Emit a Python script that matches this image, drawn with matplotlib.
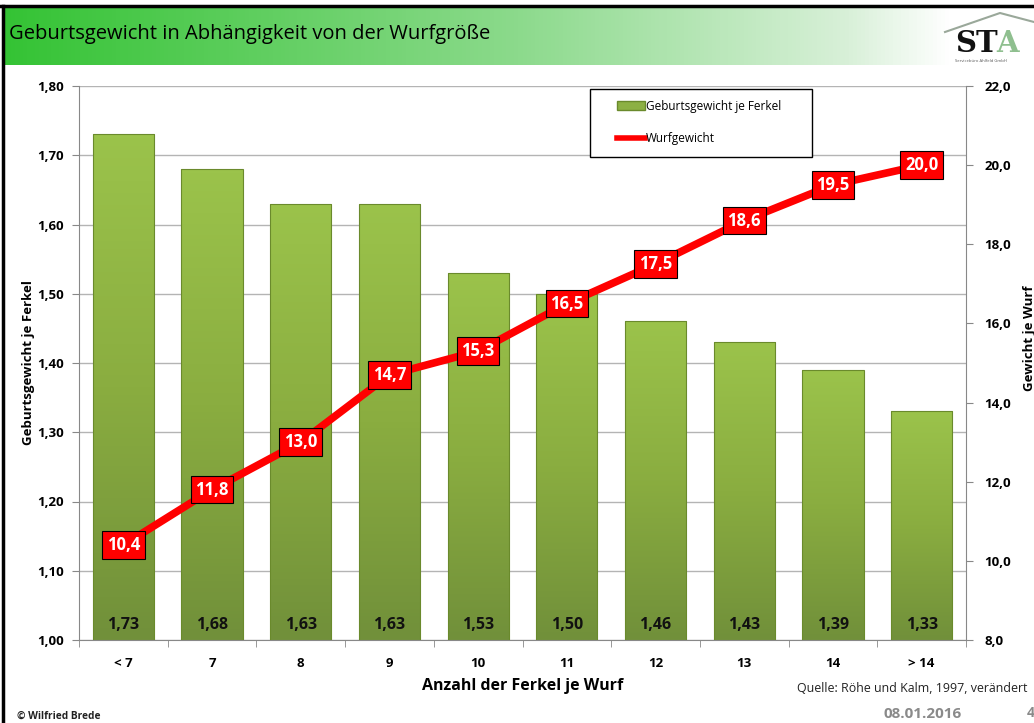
import numpy as np
import matplotlib.pyplot as plt
from matplotlib.patches import Patch, Rectangle
from matplotlib.lines import Line2D
from matplotlib.colors import LinearSegmentedColormap

plt.rcParams['font.family'] = ['Open Sans', 'DejaVu Sans']

# data
categories = ['< 7', '7', '8', '9', '10', '11', '12', '13', '14', '> 14']
birth_weight = [1.73, 1.68, 1.63, 1.63, 1.53, 1.50, 1.46, 1.43, 1.39, 1.33]
litter_weight = [10.4, 11.8, 13.0, 14.7, 15.3, 16.5, 17.5, 18.6, 19.5, 20.0]
left_ticks = np.arange(1.0, 1.81, 0.1)
right_ticks = np.arange(8.0, 22.1, 2.0)


def de(v, nd):
    return ('{:.' + str(nd) + 'f}').format(v).replace('.', ',')


W, H = 1034, 723
fig = plt.figure(figsize=(W / 100, H / 100), dpi=100)

# title bar with gradient
tb = fig.add_axes([3 / W, 1 - 65 / H, 1 - 3 / W, 58 / H])
title_cmap = LinearSegmentedColormap.from_list(
    'tb', [(0.0, '#34c334'), (0.5, '#8cda8c'), (0.82, '#d8f0d8'), (0.92, '#ffffff'), (1.0, '#ffffff')])
tb.imshow(np.linspace(0, 1, 256)[None, :], aspect='auto', cmap=title_cmap, extent=[0, 1, 0, 1])
tb.set_xlim(0, 1)
tb.set_ylim(0, 1)
tb.axis('off')
fig.text(9 / W, 1 - 34 / H, 'Geburtsgewicht in Abhängigkeit von der Wurfgröße',
         fontsize=14.5, va='center', ha='left', color='black')

# logo
fig.add_artist(Line2D([945 / W, 1000 / W, 1034 / W], [1 - 32 / H, 1 - 13 / H, 1 - 22 / H],
                      color='#9aa89a', lw=1.5))
fig.text(955 / W, 1 - 43 / H, 'ST', fontsize=21, fontweight='bold', family='DejaVu Serif',
         va='center', ha='left', color='#111111')
fig.text(996 / W, 1 - 43 / H, 'A', fontsize=21, fontweight='bold', family='DejaVu Serif',
         va='center', ha='left', color='#8fbf8f')
fig.text(955 / W, 1 - 61 / H, 'Servicebüro Ahlfeld GmbH', fontsize=3, va='center', ha='left',
         color='#555555')

# frame lines
fig.add_artist(Line2D([0, 1], [1 - 6 / H, 1 - 6 / H], color='black', lw=2.5))
fig.add_artist(Line2D([3 / W, 3 / W], [0, 1 - 6 / H], color='black', lw=2.5))

# main axes
ax1 = fig.add_axes([79 / W, 1 - 640 / H, (966 - 79) / W, (640 - 86) / H])
ax2 = ax1.twinx()

x = np.arange(len(categories))
bars = ax1.bar(x, birth_weight, width=0.69, bottom=0, color='none',
               edgecolor='#6a8a2c', linewidth=0.8, zorder=3)
bar_cmap = LinearSegmentedColormap.from_list('bar', ['#71903a', '#8aad40', '#9bc34b'])
for b, v in zip(bars, birth_weight):
    x0 = b.get_x()
    im = ax1.imshow(np.linspace(0, 1, 128)[:, None], aspect='auto', cmap=bar_cmap,
                    origin='lower', extent=[x0, x0 + b.get_width(), 1.0, v], zorder=2)
    im.set_clip_path(b)
    ax1.text(b.get_x() + b.get_width() / 2, 1.022, de(v, 2), ha='center', va='center',
             fontsize=11.5, fontweight='bold', color='#111111', zorder=4)

ax1.set_xlim(-0.5, len(categories) - 0.5)
ax1.set_ylim(1.0, 1.8)
ax1.set_yticks(left_ticks)
ax1.set_yticklabels([de(t, 2) for t in left_ticks], fontsize=9.5, fontweight='bold')
ax1.set_xticks(x)
ax1.set_xticklabels(categories, fontsize=9.5, fontweight='bold')
ax1.set_xticks(np.arange(-0.5, len(categories)), minor=True)
ax1.tick_params(axis='x', which='major', length=0, pad=12)
ax1.tick_params(axis='x', which='minor', length=5, color='#888888', direction='out')
ax1.tick_params(axis='y', length=5, color='#888888', direction='out', pad=6)
ax1.grid(axis='y', color='#b4b4b4', linewidth=1.0, zorder=0)
ax1.set_axisbelow(True)
for s in ['top', 'right']:
    ax1.spines[s].set_visible(False)
for s in ['left', 'bottom']:
    ax1.spines[s].set_color('#888888')
ax1.set_ylabel('Geburtsgewicht je Ferkel', fontsize=9.5, fontweight='bold')
ax1.yaxis.set_label_coords(-(79 - 35) / 887, 0.5)
ax1.set_xlabel('Anzahl der Ferkel je Wurf', fontsize=11.5, fontweight='bold', labelpad=6)

ax2.plot(x, litter_weight, color='#ff0000', linewidth=5.5, solid_capstyle='butt', zorder=5)
for xi, v in zip(x, litter_weight):
    ax2.text(xi, v, de(v, 1), ha='center', va='center', fontsize=12, fontweight='bold',
             color='white', zorder=6,
             bbox=dict(boxstyle='square,pad=0.28', facecolor='#ff0000', edgecolor='black', linewidth=0.8))
ax2.set_ylim(8.0, 22.0)
ax2.set_yticks(right_ticks)
ax2.set_yticklabels([de(t, 1) for t in right_ticks], fontsize=9.5, fontweight='bold')
ax2.tick_params(axis='y', length=5, color='#888888', direction='out', pad=8)
for s in ['top', 'left', 'bottom']:
    ax2.spines[s].set_visible(False)
ax2.spines['right'].set_color('#888888')
ax2.set_ylabel('Gewicht je Wurf', fontsize=9.5, fontweight='bold')
ax2.yaxis.set_label_coords(1 + (1023 - 966) / 887, 1 - (338 - 86) / 554)

# legend: manual frame, entries without frame
ax2.add_patch(Rectangle((590 / W, 1 - 157 / H), 222 / W, 68 / H, transform=fig.transFigure,
                        facecolor='white', edgecolor='black', linewidth=1.0, zorder=9,
                        clip_on=False))
handles = [Patch(facecolor='#8cb043', edgecolor='#6a8a2c', label='Geburtsgewicht je Ferkel'),
           Line2D([0], [0], color='#ff0000', lw=4, label='Wurfgewicht')]
leg = ax2.legend(handles=handles, loc='upper left', bbox_to_anchor=(612 / W, 1 - 95 / H),
                 bbox_transform=fig.transFigure, fontsize=8.5, frameon=False,
                 handlelength=2.4, handletextpad=0.1, labelspacing=1.65, borderaxespad=0)
leg.set_zorder(10)

# footer
fig.text(797 / W, 1 - 688 / H, 'Quelle: Röhe und Kalm, 1997, verändert', fontsize=8.9,
         va='center', ha='left', color='#222222')
fig.text(17 / W, 1 - 716 / H, '© Wilfried Brede', fontsize=7.3, fontweight='bold',
         va='center', ha='left', color='#222222')
fig.text(883 / W, 1 - 714 / H, '08.01.2016', fontsize=11, fontweight='bold',
         va='center', ha='left', color='#8a8a8a')
fig.text(1027 / W, 1 - 713 / H, '4', fontsize=10, fontweight='bold',
         va='center', ha='left', color='#8a8a8a')

fig.savefig('out.png', dpi=100)
